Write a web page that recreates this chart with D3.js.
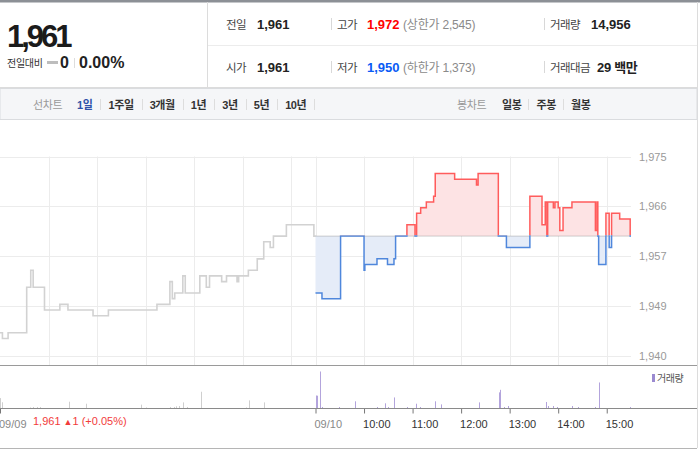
<!DOCTYPE html>
<html>
<head>
<meta charset="utf-8">
<script src="https://cdn.jsdelivr.net/npm/d3@7"></script>
<style>
  body { margin: 0; background: #fff; }
  svg { display: block; font-family: "Liberation Sans", "Noto Sans CJK KR", sans-serif; }
</style>
</head>
<body>
<svg id="chart" width="700" height="450"></svg>
<script>
// --- data ---
const basePrice = 1961;

const prevTimes = ['09:00','09:03','09:10','09:33','09:38','09:41','09:55','10:14','10:24','10:55','11:14','12:14','12:30','12:33','12:36','12:46','12:49','13:07','13:15','13:19','13:34','13:40','13:53','13:55','14:07','14:18','14:26','14:34','14:38','14:54','15:28','15:30'];
const prevPrices = [1944,1943,1944,1952,1955,1952,1948,1949,1948,1947,1948,1949,1953,1950,1951,1954,1951,1954,1952,1954,1953,1954,1953,1954,1955,1957,1960,1959,1961,1963,1961,1961];

const todayTimes = ['09:00','09:08','09:31','10:00','10:01','10:16','10:29','10:37','10:39','10:53','11:03','11:05','11:10','11:17','11:26','11:28','11:52','12:19','12:21','12:46','12:56','13:25','13:40','13:44','13:46','13:47','13:54','13:56','14:00','14:02','14:06','14:17','14:46','14:48','14:49','14:50','14:59','15:03','15:06','15:16','15:29','15:30'];
const todayPrices = [1951,1950,1961,1955,1956,1957,1956,1957,1961,1963,1961,1965,1966,1967,1968,1972,1971,1970,1972,1961,1959,1968,1963,1967,1961,1967,1966,1967,1966,1962,1966,1967,1962,1967,1961,1956,1965,1959,1965,1964,1961,1961];

const prevVolTimes = ['09:00','09:02','09:37','09:41','09:46','09:50','10:25','10:46','11:54','12:01','12:30','12:35','12:38','12:41','12:46','12:51','13:08','14:04','14:08','14:26'];
const prevVols = [740,430,40,75,75,75,470,320,250,40,75,75,125,150,420,75,1215,40,570,420];

const todayVolTimes = ['09:00','09:01','09:02','09:05','09:08','09:29','09:49','10:16','10:26','10:30','10:37','10:53','11:04','11:09','11:28','11:35','12:22','12:47','12:48','12:53','12:58','13:45','13:47','13:53','13:58','14:17','14:25','14:46','14:50','15:29'];
const todayVols = [920,920,920,2730,75,75,500,75,350,75,790,75,320,75,500,270,420,1170,1360,75,150,450,150,150,75,150,75,75,1910,75];

const yTickValues = [1940, 1948.75, 1957.5, 1966.25, 1975];
const yTickLabels = ['1,940', '1,949', '1,957', '1,966', '1,975'];

const xTickLabels = ['09/09', '09/10', '10:00', '11:00', '12:00', '13:00', '14:00', '15:00'];
const xTickSessions = [0, 1, 1, 1, 1, 1, 1, 1];
const xTickTimes = ['09:00', '09:00', '10:00', '11:00', '12:00', '13:00', '14:00', '15:00'];

const tabsLeft = ['1일', '1주일', '3개월', '1년', '3년', '5년', '10년'];
const tabsRight = ['일봉', '주봉', '월봉'];

// session 0 = 09/09, session 1 = 09/10, each 09:00-15:30 (390 min)
function toT(session, hhmm) {
  const [h, m] = hhmm.split(':').map(Number);
  return session * 390 + (h - 9) * 60 + m;
}

const prevData = prevTimes.map((t, i) => ({ t: toT(0, t), v: prevPrices[i] }));
const todayData = todayTimes.map((t, i) => ({ t: toT(1, t), v: todayPrices[i] }));
const volData = prevVolTimes.map((t, i) => ({ t: toT(0, t), v: prevVols[i], today: false }))
  .concat(todayVolTimes.map((t, i) => ({ t: toT(1, t), v: todayVols[i], today: true })));

const svg = d3.select('#chart');
const font = '"Liberation Sans", "Noto Sans CJK KR", sans-serif';

const x = d3.scaleLinear().domain([0, 780]).range([0, 631]);
const y = d3.scaleLinear().domain([1940, 1975]).range([355.5, 156.5]);
const vy = d3.scaleLinear().domain([0, 2730]).range([408, 371.5]);
const baseY = y(basePrice);

function txt(g, px, py, s, size, weight, fill, anchor) {
  return g.append('text').attr('x', px).attr('y', py).text(s)
    .attr('font-size', size).attr('font-weight', weight || 'normal')
    .attr('fill', fill || '#333').attr('text-anchor', anchor || 'start');
}
function hline(g, x1, x2, yy, c) {
  g.append('line').attr('x1', x1).attr('x2', x2).attr('y1', yy).attr('y2', yy).attr('stroke', c);
}
function vline(g, xx, y1, y2, c) {
  g.append('line').attr('x1', xx).attr('x2', xx).attr('y1', y1).attr('y2', y2).attr('stroke', c);
}

// --- header ---
const head = svg.append('g');
head.append('rect').attr('x', 0).attr('y', 0).attr('width', 700).attr('height', 2.5).attr('fill', '#8c9096');
vline(head, 207.5, 2, 88, '#dcdcdc');
hline(head, 208, 697, 45.5, '#ececec');
hline(head, 0, 698, 87.5, '#dcdcdc');
vline(head, 697.5, 2, 448, '#dcdcdc');

txt(head, 7, 47, '1,961', 31, 'bold', '#1b1b1b').attr('letter-spacing', -3);
txt(head, 7, 67, '전일대비', 10, 'normal', '#333').attr('letter-spacing', -0.3);
head.append('rect').attr('x', 47).attr('y', 61).attr('width', 11).attr('height', 3).attr('fill', '#bdbdbd');
txt(head, 60, 68, '0', 16, 'bold', '#222');
vline(head, 74.5, 58, 68, '#dddddd');
txt(head, 79, 68, '0.00%', 16, 'bold', '#222');

const rowY = [29, 72];
const lab = (px, py, s) => txt(head, px, py, s, 11.5, 'normal', '#444').attr('letter-spacing', -0.6);
lab(226, rowY[0], '전일');
txt(head, 257, rowY[0], '1,961', 13, 'bold', '#222');
lab(226, rowY[1], '시가');
txt(head, 257, rowY[1], '1,961', 13, 'bold', '#222');
[0, 1].forEach(r => {
  vline(head, 331.5, rowY[r] - 11, rowY[r] + 1, '#d8d8d8');
  vline(head, 544.5, rowY[r] - 11, rowY[r] + 1, '#d8d8d8');
});
lab(337, rowY[0], '고가');
txt(head, 367, rowY[0], '1,972', 13, 'bold', '#f00');
txt(head, 403, rowY[0], '(상한가 2,545)', 12, 'normal', '#8a8a8a').attr('letter-spacing', -0.2);
lab(337, rowY[1], '저가');
txt(head, 367, rowY[1], '1,950', 13, 'bold', '#0a5bf5');
txt(head, 403, rowY[1], '(하한가 1,373)', 12, 'normal', '#8a8a8a').attr('letter-spacing', -0.2);
lab(550, rowY[0], '거래량');
txt(head, 591, rowY[0], '14,956', 13, 'bold', '#222');
lab(550, rowY[1], '거래대금');
txt(head, 597, rowY[1], '29 백만', 13, 'bold', '#222').attr('letter-spacing', -0.3);

// --- tab bar ---
const tabs = svg.append('g');
tabs.append('rect').attr('x', 0).attr('y', 88.5).attr('width', 697).attr('height', 31)
  .attr('fill', '#f5f6f8').attr('stroke', '#dadcdf');
txt(tabs, 33, 108.5, '선차트', 11, 'normal', '#999').attr('letter-spacing', -0.4);
let cx = 77;
tabsLeft.forEach((label, i) => {
  const t = txt(tabs, cx, 108.5, label, 11, 'bold', i === 0 ? '#2f52a8' : '#333').attr('letter-spacing', -0.4);
  const w = t.node().getComputedTextLength();
  cx += w + 8;
  vline(tabs, Math.round(cx) + 0.5, 99, 110, '#dddddd');
  cx += 8;
});
txt(tabs, 457, 108.5, '봉차트', 11, 'normal', '#999').attr('letter-spacing', -0.4);
cx = 502;
tabsRight.forEach((label, i) => {
  const t = txt(tabs, cx, 108.5, label, 11, 'bold', '#333').attr('letter-spacing', -0.4);
  const w = t.node().getComputedTextLength();
  cx += w + 7;
  if (i < tabsRight.length - 1) vline(tabs, Math.round(cx) + 0.5, 99, 110, '#dddddd');
  cx += 8;
});

// --- price grid ---
const grid = svg.append('g');
grid.selectAll('line.h').data(yTickValues).join('line')
  .attr('x1', 0).attr('x2', 631)
  .attr('y1', d => Math.round(y(d)) + 0.5).attr('y2', d => Math.round(y(d)) + 0.5)
  .attr('stroke', '#ececec');
const gridT = d3.range(60, 361, 60).concat(d3.range(390, 751, 60));
grid.selectAll('line.v').data(gridT).join('line')
  .attr('x1', d => Math.round(x(d)) + 0.5).attr('x2', d => Math.round(x(d)) + 0.5)
  .attr('y1', y(1975)).attr('y2', 365)
  .attr('stroke', '#ececec');

const yAxis = svg.append('g').attr('transform', 'translate(631,0)')
  .call(d3.axisRight(y).tickValues(yTickValues).tickFormat((d, i) => yTickLabels[i]).tickSize(0).tickPadding(8));
yAxis.select('.domain').remove();
yAxis.selectAll('text').attr('fill', '#999').attr('font-size', 11).attr('font-family', font);

// --- previous day line ---
const line = d3.line().x(d => x(d.t)).y(d => y(d.v)).curve(d3.curveStepAfter);
svg.append('path').datum(prevData).attr('d', line)
  .attr('fill', 'none').attr('stroke', '#d2d2d2').attr('stroke-width', 1.6);

// --- today: fills and lines split at base price ---
const defs = svg.append('defs');
defs.append('clipPath').attr('id', 'above').append('rect')
  .attr('x', 0).attr('y', 0).attr('width', 700).attr('height', baseY - 0.8);
defs.append('clipPath').attr('id', 'below').append('rect')
  .attr('x', 0).attr('y', baseY - 0.8).attr('width', 700).attr('height', 400);
defs.append('clipPath').attr('id', 'aboveFill').append('rect')
  .attr('x', 0).attr('y', 0).attr('width', 700).attr('height', baseY);
defs.append('clipPath').attr('id', 'belowFill').append('rect')
  .attr('x', 0).attr('y', baseY).attr('width', 700).attr('height', 400);

const area = d3.area().x(d => x(d.t)).y0(baseY).y1(d => y(d.v)).curve(d3.curveStepAfter);
svg.append('path').datum(todayData).attr('d', area).attr('fill', '#fde3e4').attr('clip-path', 'url(#aboveFill)');
svg.append('path').datum(todayData).attr('d', area).attr('fill', '#e5ecf8').attr('clip-path', 'url(#belowFill)');

svg.append('line').attr('x1', x(390)).attr('x2', x(780)).attr('y1', baseY).attr('y2', baseY)
  .attr('stroke', '#8a8a8a').attr('stroke-width', 0.8).attr('stroke-dasharray', '1,1');

svg.append('path').datum(todayData).attr('d', line)
  .attr('fill', 'none').attr('stroke', '#ff5c5c').attr('stroke-width', 1.5).attr('clip-path', 'url(#above)');
svg.append('path').datum(todayData).attr('d', line)
  .attr('fill', 'none').attr('stroke', '#4f87dc').attr('stroke-width', 1.5).attr('clip-path', 'url(#below)');

// --- frame lines of the chart ---
hline(svg, 0, 697, 365.5, '#9a9a9a');
hline(svg, 0, 697, 448.5, '#b5b5b5');

// --- volume ---
svg.append('g').selectAll('rect').data(volData).join('rect')
  .attr('x', d => Math.round(x(d.t)))
  .attr('y', d => vy(d.v))
  .attr('width', 1)
  .attr('height', d => vy(0) - vy(d.v))
  .attr('fill', d => d.today ? '#b3a4dc' : '#cfcfcf');

svg.append('rect').attr('x', 652).attr('y', 374).attr('width', 3).attr('height', 8).attr('fill', '#9b8ad0');
txt(svg, 657, 381.5, '거래량', 10, 'normal', '#555').attr('letter-spacing', -0.5);

// --- x axis ---
const xTickValues = xTickTimes.map((t, i) => toT(xTickSessions[i], t));
const xAxis = svg.append('g').attr('transform', 'translate(0,408.5)')
  .call(d3.axisBottom(x).tickValues(xTickValues).tickFormat((d, i) => xTickLabels[i]).tickSize(5).tickPadding(7));
xAxis.select('.domain').remove();
xAxis.selectAll('line').attr('stroke', '#777');
xAxis.selectAll('text').attr('text-anchor', 'start').attr('dx', -1.5)
  .attr('font-size', 11).attr('font-family', font)
  .attr('fill', (d, i) => i < 2 ? '#888' : '#333');
hline(svg, 0, 697, 408.5, '#8a8a8a');

const ann = txt(svg, 33, 425, '1,961 ', 11, 'normal', '#f23b3b');
ann.append('tspan').attr('font-size', 9).text('▲');
ann.append('tspan').text('1 (+0.05%)');
</script>
</body>
</html>
